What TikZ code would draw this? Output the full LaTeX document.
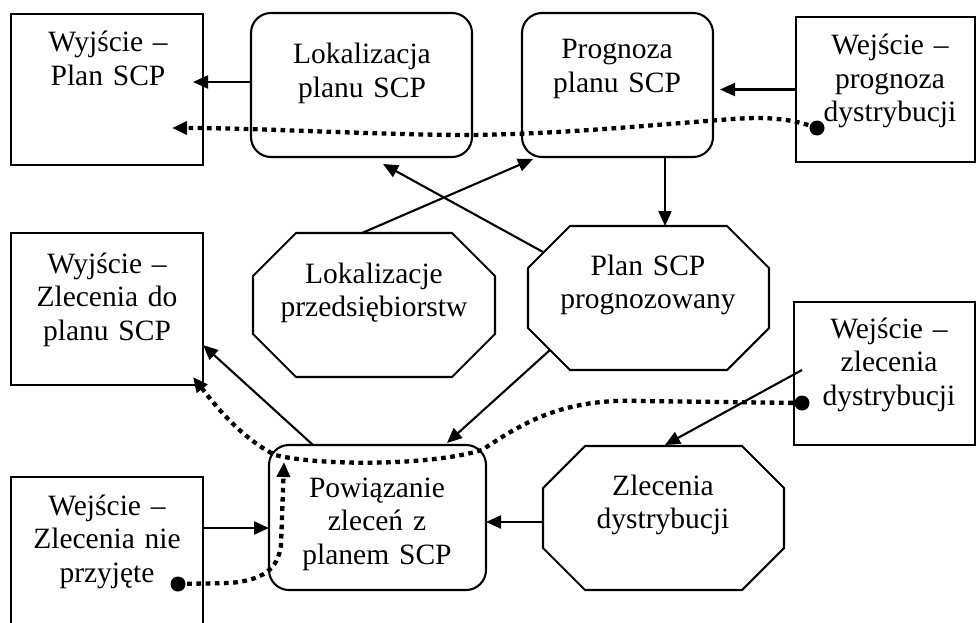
\documentclass[tikz,border=0pt]{standalone}
\usepackage{fontspec}
\setmainfont{Liberation Serif}
\usetikzlibrary{arrows.meta,calc,fit}

% octagon drawn inside a named frame node: #1 name, #2 chamfer
\newcommand{\octframe}[2]{%
  \draw[shapeline]
    ([xshift=#2]#1.north west) -- ([xshift=-#2]#1.north east)
    -- ([yshift=-#2]#1.north east) -- ([yshift=#2]#1.south east)
    -- ([xshift=-#2]#1.south east) -- ([xshift=#2]#1.south west)
    -- ([yshift=#2]#1.south west) -- ([yshift=-#2]#1.north west) -- cycle;}

\begin{document}
\begin{tikzpicture}[x=1pt,y=-1pt,
  shapeline/.style={line width=2.1pt,line join=miter},
  frame/.style={inner sep=0pt,outer sep=0pt},
  sqbox/.style={frame,draw,line width=2.1pt},
  rndbox/.style={frame,draw,line width=2.1pt,rounded corners=20pt},
  txt/.style={anchor=base,align=center,text width=220pt,inner sep=0pt,
    font=\fontsize{29.5}{33.5}\selectfont},
  arr/.style={line width=2.1pt,-{Triangle[length=15pt,width=13pt]}},
  dotline/.style={line width=4.3pt,dash pattern=on 4.7pt off 4.5pt},
  dotarr/.style={dotline,-{Triangle[length=15pt,width=13pt]}}]

\clip (0,0) rectangle (976,623);

% ---- shapes ----
\node[sqbox,fit={(11,14)(203,165)}] (outplan) {};
\node[rndbox,fit={(251,13)(472,157)}] (lokplan) {};
\node[rndbox,fit={(522,13)(713,157)}] (prognoza) {};
\node[sqbox,fit={(796,17)(975,162)}] (inprog) {};

\node[sqbox,fit={(11,233)(203,385)}] (outzlec) {};
\node[frame,fit={(253,233)(495,377)}] (lokprz) {};
\octframe{lokprz}{43pt}
\node[frame,fit={(528,226)(769,370)}] (planprog) {};
\octframe{planprog}{42pt}
\node[sqbox,fit={(794,302)(975,445)}] (inzlec) {};

\node[sqbox,fit={(11,477)(203,660)}] (innie) {};
\node[rndbox,fit={(269,445)(486,590)}] (powiaz) {};
\node[frame,fit={(543,446)(784,590)}] (zlecdys) {};
\octframe{zlecdys}{42pt}

% ---- texts ----
\node[txt] (t-outplan) at (108,52) {Wyjście –\\Plan SCP};
\node[txt] (t-lokplan) at (362,64) {Lokalizacja\\planu SCP};
\node[txt] (t-prognoza) at (617,59) {Prognoza\\planu SCP};
\node[txt] (t-inprog) at (890,55) {Wejście –\\prognoza\\dystrybucji};
\node[txt] (t-outzlec) at (107,273) {Wyjście –\\Zlecenia do\\planu SCP};
\node[txt] (t-lokprz) at (374,283) {Lokalizacje\\przedsiębiorstw};
\node[txt] (t-planprog) at (648,275) {Plan SCP\\prognozowany};
\node[txt] (t-inzlec) at (889,338) {Wejście –\\zlecenia\\dystrybucji};
\node[txt] (t-innie) at (107,515) {Wejście –\\Zlecenia nie\\przyjęte};
\node[txt] (t-powiaz) at (377,497) {Powiązanie\\zleceń z\\planem SCP};
\node[txt] (t-zlecdys) at (663,495) {Zlecenia\\dystrybucji};

% ---- solid connectors ----
\draw[arr,shorten >=-10pt] ([yshift=3pt]lokplan.west) -- ([yshift=3pt]lokplan.west -| outplan.east);
\draw[arr,shorten >=7pt] (inprog.west) -- (inprog.west -| prognoza.east);
\draw[arr] ([xshift=47.5pt]prognoza.south) -- ([xshift=47.5pt]prognoza.south |- planprog.north);
\draw[arr] ([xshift=15pt,yshift=-26pt]planprog.north west) -- ([xshift=21.5pt,yshift=-7pt]lokplan.south);
\draw[arr] ([xshift=-12pt]lokprz.north) -- ([xshift=11pt,yshift=-2pt]prognoza.south west);
\draw[arr] ([xshift=22pt,yshift=20pt]planprog.south west) -- ([xshift=69.5pt,yshift=2pt]powiaz.north);
\draw[arr] ([xshift=-64.5pt]powiaz.north) -- ([yshift=-36pt]outzlec.east);
\draw[arr] ([yshift=-10.5pt]powiaz.west -| innie.east) -- ([yshift=-10.5pt]powiaz.west);
\draw[arr] ([yshift=-4pt]zlecdys.west) -- ([yshift=-4pt]zlecdys.west -| powiaz.east);
\draw[arr] ([xshift=8pt,yshift=3.5pt]inzlec.west) -- ([xshift=1.5pt,yshift=1pt]zlecdys.north);

% ---- dotted flows ----
\coordinate (d1) at (817,128);
\coordinate (e1) at (172,128);
\draw[dotarr] (d1) .. controls (785,116) and (755,117) .. (720,120)
  .. controls (640,126) and (560,134) .. (470,135)
  .. controls (380,135) and (260,128) .. (e1);
\fill (d1) circle (7.5pt);

\coordinate (d2) at (802,403);
\coordinate (e2) at (193,377);
\draw[dotarr] (d2) -- (640,401) .. controls (560,398) and (520,425) .. (482,450)
  .. controls (430,466) and (320,466) .. (275,455)
  .. controls (240,437) and (215,405) .. (e2);
\fill (d2) circle (7.5pt);

\coordinate (d3) at (178,584);
\coordinate (e3) at (284,462);
\draw[dotarr] (d3) -- (230,583) .. controls (262,580) and (278,570) .. (281,545) -- (e3);
\fill (d3) circle (7.5pt);

\end{tikzpicture}
\end{document}
